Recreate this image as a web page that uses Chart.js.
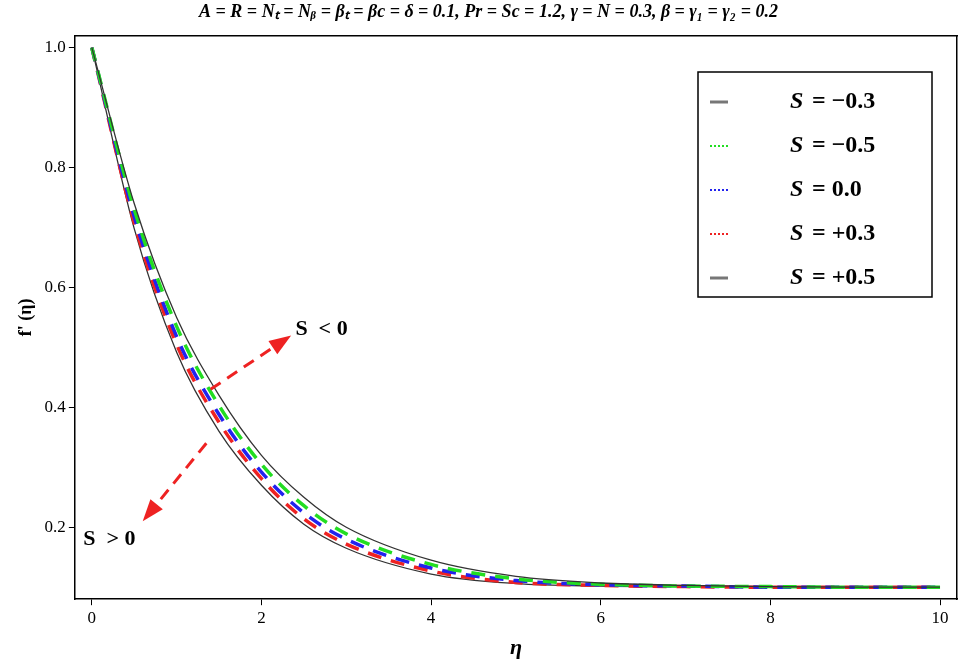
<!DOCTYPE html>
<html>
<head>
<script src="https://cdn.jsdelivr.net/npm/chart.js@4"></script>
<style>body{margin:0;background:#fff}#wrap{width:975px;height:670px}</style>
</head>
<body>
<div id="wrap"><canvas id="c"></canvas></div>
<script>
var eta = [0, 0.5, 1, 1.5, 2, 2.5, 3, 4, 5, 6, 7, 8, 9, 10]
var upper = [1.0, 0.740, 0.550, 0.420, 0.320, 0.250, 0.200, 0.145, 0.118, 0.107, 0.103, 0.101, 0.100, 0.100]
var green = [1.0, 0.730, 0.535, 0.403, 0.305, 0.236, 0.189, 0.138, 0.114, 0.105, 0.102, 0.101, 0.100, 0.100]
var blue = [1.0, 0.718, 0.518, 0.388, 0.292, 0.224, 0.180, 0.132, 0.111, 0.104, 0.102, 0.100, 0.100, 0.100]
var red = [1.0, 0.708, 0.505, 0.375, 0.281, 0.214, 0.172, 0.127, 0.108, 0.103, 0.101, 0.100, 0.100, 0.100]
var lower = [1.0, 0.698, 0.492, 0.360, 0.270, 0.205, 0.165, 0.122, 0.106, 0.102, 0.101, 0.100, 0.100, 0.100]
var legendLabels = ['S = \u22120.3', 'S = \u22120.5', 'S = 0.0', 'S = +0.3', 'S = +0.5']
var legendColors = ['#777', '#22dd22', '#2222ee', '#ee2222', '#777']

function pts(ys) { return eta.map(function(x, i) { return {x: x, y: ys[i]} }) }
function ds(label, ys, color, dash, w) {
    return {label: label, data: pts(ys), borderColor: color, borderWidth: w, borderDash: dash,
            pointRadius: 0, cubicInterpolationMode: 'monotone', fill: false}
}

var serif = 'Liberation Serif'

function arrow(ctx, x1, y1, x2, y2) {
    ctx.save()
    ctx.strokeStyle = '#ee2222'; ctx.fillStyle = '#ee2222'; ctx.lineWidth = 3
    var a = Math.atan2(y2 - y1, x2 - x1)
    var hx = x2 - 22 * Math.cos(a), hy = y2 - 22 * Math.sin(a)
    ctx.setLineDash([12, 8])
    ctx.beginPath(); ctx.moveTo(x1, y1); ctx.lineTo(hx, hy); ctx.stroke()
    ctx.setLineDash([])
    ctx.beginPath(); ctx.moveTo(x2, y2)
    ctx.lineTo(hx + 8 * Math.sin(a), hy - 8 * Math.cos(a))
    ctx.lineTo(hx - 8 * Math.sin(a), hy + 8 * Math.cos(a))
    ctx.closePath(); ctx.fill()
    ctx.restore()
}

var extras = {
    id: 'extras',
    afterDraw: function(chart) {
        var ctx = chart.ctx, xs = chart.scales.x, ys = chart.scales.y
        arrow(ctx, xs.getPixelForValue(1.4), ys.getPixelForValue(0.43), xs.getPixelForValue(2.35), ys.getPixelForValue(0.52))
        arrow(ctx, xs.getPixelForValue(1.35), ys.getPixelForValue(0.34), xs.getPixelForValue(0.6), ys.getPixelForValue(0.21))
        ctx.save()
        ctx.fillStyle = '#000'; ctx.font = 'bold 22px ' + serif; ctx.textBaseline = 'middle'
        ctx.fillText('S  < 0', xs.getPixelForValue(2.4), ys.getPixelForValue(0.53))
        ctx.fillText('S  > 0', xs.getPixelForValue(-0.1), ys.getPixelForValue(0.18))
        // legend box
        var bx = 698, by = 72, bw = 234, bh = 225
        ctx.fillStyle = '#fff'; ctx.fillRect(bx, by, bw, bh)
        ctx.strokeStyle = '#000'; ctx.lineWidth = 1.5; ctx.strokeRect(bx, by, bw, bh)
        legendLabels.forEach(function(t, i) {
            var y = by + 30 + i * 44
            ctx.strokeStyle = legendColors[i]
            ctx.lineWidth = (i == 0 || i == 4) ? 3 : 2
            ctx.setLineDash((i == 0 || i == 4) ? [] : [2, 2])
            ctx.beginPath(); ctx.moveTo(bx + 12, y); ctx.lineTo(bx + 30, y); ctx.stroke()
            ctx.setLineDash([])
            ctx.fillStyle = '#000'
            ctx.font = 'bold italic 24px ' + serif
            ctx.fillText('S', bx + 92, y)
            ctx.font = 'bold 24px ' + serif
            ctx.fillText(t.slice(1), bx + 108, y)
        })
        ctx.restore()
    }
}

new Chart(document.getElementById('c'), {
    type: 'line',
    data: {
        datasets: [
            ds('S = -0.5 (solid)', upper, '#333', [], 1.3),
            ds('S = -0.5', green, '#22dd22', [14, 10], 3.5),
            ds('S = 0.0', blue, '#2222ee', [14, 10], 3.5),
            ds('S = +0.3', red, '#ee2222', [14, 10], 3.5),
            ds('S = +0.5', lower, '#333', [], 1.3)
        ]
    },
    options: {
        responsive: true,
        maintainAspectRatio: false,
        animation: false,
        layout: {padding: {left: 12, right: 10, top: 0, bottom: 4}},
        plugins: {
            legend: {display: false},
            tooltip: {enabled: false},
            title: {
                display: true,
                text: 'A = R = N\u209c = N\u1d66 = \u03b2\u209c = \u03b2c = \u03b4 = 0.1, Pr = Sc = 1.2, \u03b3 = N = 0.3, \u03b2 = \u03b3\u2081 = \u03b3\u2082 = 0.2',
                color: '#000',
                font: {family: serif, size: 18, weight: 'bold', style: 'italic'},
                padding: {top: 2, bottom: 4}
            }
        },
        scales: {
            x: {
                type: 'linear', min: -0.2, max: 10.2,
                afterBuildTicks: function(s) { s.ticks = [0, 2, 4, 6, 8, 10].map(function(v) { return {value: v} }) },
                border: {display: true, color: '#000', width: 1.5},
                grid: {display: true, drawOnChartArea: false, color: '#000', tickLength: 6},
                ticks: {color: '#000', font: {family: serif, size: 17}},
                title: {display: true, text: '\u03b7', color: '#000', font: {family: serif, size: 22, weight: 'bold', style: 'italic'}}
            },
            y: {
                min: 0.08, max: 1.02,
                afterBuildTicks: function(s) { s.ticks = [0.2, 0.4, 0.6, 0.8, 1.0].map(function(v) { return {value: v} }) },
                border: {display: true, color: '#000', width: 1.5},
                grid: {display: true, drawOnChartArea: false, color: '#000', tickLength: 6},
                ticks: {color: '#000', font: {family: serif, size: 17}, callback: function(v) { return v.toFixed(1) }},
                title: {display: true, text: "f' (\u03b7)", color: '#000', font: {family: serif, size: 18, weight: 'bold'}}
            },
            x2: {type: 'linear', position: 'top', min: -0.2, max: 10.2, ticks: {display: false},
                 border: {display: true, color: '#000', width: 1.5}, grid: {drawOnChartArea: false, display: false}},
            y2: {position: 'right', min: 0.08, max: 1.02, ticks: {display: false},
                 border: {display: true, color: '#000', width: 1.5}, grid: {drawOnChartArea: false, display: false}}
        }
    },
    plugins: [extras]
})
</script>
</body>
</html>
